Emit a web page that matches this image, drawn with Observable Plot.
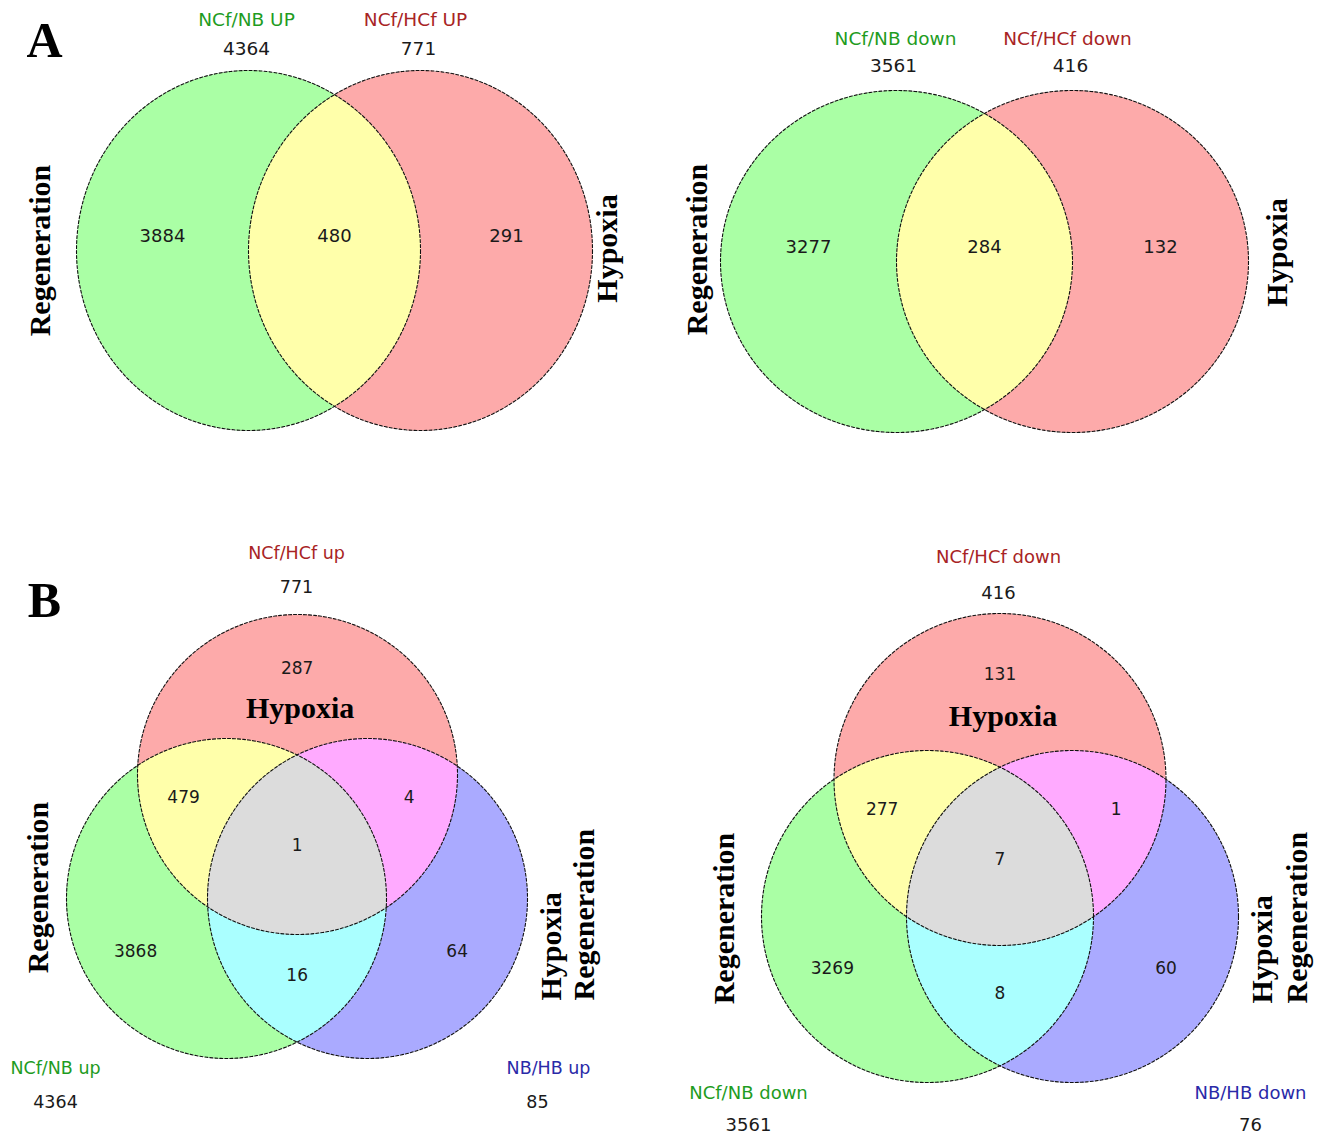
<!DOCTYPE html>
<html>
<head>
<meta charset="utf-8">
<script src="https://cdn.jsdelivr.net/npm/d3@7"></script>
<script src="https://cdn.jsdelivr.net/npm/@observablehq/plot@0.6"></script>
<style>
  body { margin: 0; background: #ffffff; }
  #chart { width: 1321px; height: 1135px; }
</style>
</head>
<body>
<div id="chart"></div>
<script>
// ================= DATA =================
const countsAup   = [3884, 480, 291];            // Regeneration only, both, Hypoxia only
const countsAdown = [3277, 284, 132];
// order: Hypoxia only, Hyp∩Reg, Hyp∩HypReg, all three, Reg only, Reg∩HypReg, HypReg only
const countsBup   = [287, 479, 4, 1, 3868, 16, 64];
const countsBdown = [131, 277, 1, 7, 3269, 8, 60];

const setLabelsAup   = ["NCf/NB UP", "NCf/HCf UP"];
const setTotalsAup   = [4364, 771];
const setLabelsAdown = ["NCf/NB down", "NCf/HCf down"];
const setTotalsAdown = [3561, 416];
const setLabelsBup   = ["NCf/HCf up", "NCf/NB up", "NB/HB up"];
const setTotalsBup   = [771, 4364, 85];
const setLabelsBdown = ["NCf/HCf down", "NCf/NB down", "NB/HB down"];
const setTotalsBdown = [416, 3561, 76];
const setKindsA = ["G", "R"];
const setKindsB = ["R", "G", "B"];

const groupRegeneration = "Regeneration";
const groupHypoxia = "Hypoxia";
const panelLetters = ["A", "B"];

// ================= LAYOUT & STYLE =================
const W = 1321, H = 1135;
const ellipses = [
  {panel: 0, set: "G", cx: 248,   cy: 250, rx: 172, ry: 180},
  {panel: 0, set: "R", cx: 420,   cy: 250, rx: 172, ry: 180},
  {panel: 1, set: "G", cx: 896,   cy: 261, rx: 176, ry: 171},
  {panel: 1, set: "R", cx: 1072,  cy: 261, rx: 176, ry: 171},
  {panel: 2, set: "R", cx: 297,   cy: 774, rx: 160, ry: 160},
  {panel: 2, set: "G", cx: 226,   cy: 898, rx: 160, ry: 160},
  {panel: 2, set: "B", cx: 367,   cy: 898, rx: 160, ry: 160},
  {panel: 3, set: "R", cx: 999.5, cy: 779, rx: 166, ry: 166},
  {panel: 3, set: "G", cx: 927,   cy: 916, rx: 166, ry: 166},
  {panel: 3, set: "B", cx: 1072,  cy: 916, rx: 166, ry: 166}
];
const regionColors = {G: "#aaffa5", R: "#fdaaaa", B: "#aaaaff", GR: "#ffffaa", RB: "#ffaaff", GB: "#aaffff", GRB: "#dcdcdc"};
const setTextColors = {G: "#1f9c1f", R: "#a82424", B: "#2a2aa8"};
const venn3Offsets = [[0, -1.18], [-0.71, -0.37], [0.70, -0.37], [0, -0.07], [-1.01, 0.59], [0, 0.74], [1.0, 0.59]];
const setLabelPos = [
  [[246, 20, 246, 49], [415, 20, 418, 49]],
  [[895, 39, 893, 66], [1067, 39, 1070, 66]],
  [[296, 553, 296, 587], [55, 1068, 55, 1102], [548, 1068, 537, 1102]],
  [[998, 557, 998, 593], [748, 1093, 748, 1125], [1250, 1093, 1250, 1125]]
];

// ================= BUILD =================
function fillAt(x, y) {
  let k = "";
  for (const e of ellipses) {
    const dx = (x - e.cx) / e.rx, dy = (y - e.cy) / e.ry;
    if (dx * dx + dy * dy <= 1) k += e.set;
  }
  if (!k) return "#ffffff";
  const key = ["G", "R", "B"].filter(s => k.includes(s)).join("");
  return regionColors[key];
}

const outline = ellipses.flatMap((e, i) => d3.range(0, 361, 1).map(a => ({
  i, x: e.cx + e.rx * Math.cos(a * Math.PI / 180), y: e.cy + e.ry * Math.sin(a * Math.PI / 180)
})));

const countRows = [];
[countsAup, countsAdown].forEach((counts, p) => {
  const [g, r] = ellipses.filter(e => e.panel === p);
  const xs = [(g.cx - g.rx + r.cx - r.rx) / 2, (g.cx + r.cx) / 2, (g.cx + g.rx + r.cx + r.rx) / 2];
  counts.forEach((c, j) => countRows.push({x: xs[j], y: g.cy - 14, text: String(c), size: 18}));
});
const centroids = [];
[countsBup, countsBdown].forEach((counts, q) => {
  const es = ellipses.filter(e => e.panel === q + 2);
  const cx = d3.mean(es, e => e.cx), cy = d3.mean(es, e => e.cy), r = es[0].rx;
  centroids.push({cx, cy, r});
  counts.forEach((c, j) => countRows.push({x: cx + venn3Offsets[j][0] * r, y: cy + venn3Offsets[j][1] * r, text: String(c), size: 17}));
});

const setRows = [];
const allLabels = [[setLabelsAup, setTotalsAup, setKindsA, 18.5], [setLabelsAdown, setTotalsAdown, setKindsA, 18.5],
                   [setLabelsBup, setTotalsBup, setKindsB, 17.5], [setLabelsBdown, setTotalsBdown, setKindsB, 18]];
allLabels.forEach(([labels, totals, kinds, size], p) => {
  labels.forEach((lab, j) => {
    const [lx, ly, tx, ty] = setLabelPos[p][j];
    setRows.push({x: lx, y: ly, text: lab, color: setTextColors[kinds[j]], size});
    countRows.push({x: tx, y: ty, text: String(totals[j]), size});
  });
});

const groupMid = [
  {x: 40, y: 250, text: groupRegeneration}, {x: 607, y: 248, text: groupHypoxia},
  {x: 697, y: 249, text: groupRegeneration}, {x: 1277, y: 252, text: groupHypoxia},
  {x: 38, y: 887, text: groupRegeneration}, {x: 724, y: 918, text: groupRegeneration}
];
const groupStart = [
  {x: 551, y: 1000, text: groupHypoxia}, {x: 584, y: 1000, text: groupRegeneration},
  {x: 1262, y: 1003, text: groupHypoxia}, {x: 1297, y: 1003, text: groupRegeneration}
];
const groupInside = centroids.map(c => ({x: c.cx + 3, y: c.cy - 0.93 * c.r, text: groupHypoxia}));
const letters = [{x: 44, y: 40, text: panelLetters[0]}, {x: 44, y: 600, text: panelLetters[1]}];

const chart = Plot.plot({
  width: W, height: H,
  margin: 0,
  x: {domain: [0, W], range: [0, W], axis: null},
  y: {domain: [0, H], range: [0, H], axis: null},
  color: {type: "identity"},
  style: {background: "#ffffff"},
  marks: [
    Plot.raster({x1: 0, y1: 0, x2: W, y2: H, width: W, height: H, fill: fillAt, imageRendering: "auto"}),
    Plot.line(outline, {x: "x", y: "y", z: "i", stroke: "#111111", strokeWidth: 1.1, strokeDasharray: "3,2"}),
    Plot.text(countRows, {x: "x", y: "y", text: "text", fontSize: "size", fill: "#1a1a1a", fontFamily: "DejaVu Sans"}),
    Plot.text(setRows, {x: "x", y: "y", text: "text", fontSize: "size", fill: "color", fontFamily: "DejaVu Sans"}),
    Plot.text(groupMid, {x: "x", y: "y", text: "text", rotate: -90, fontSize: 30, fontWeight: "bold", fontFamily: "Liberation Serif", fill: "#000000"}),
    Plot.text(groupStart, {x: "x", y: "y", text: "text", rotate: -90, textAnchor: "start", fontSize: 30, fontWeight: "bold", fontFamily: "Liberation Serif", fill: "#000000"}),
    Plot.text(groupInside, {x: "x", y: "y", text: "text", fontSize: 30, fontWeight: "bold", fontFamily: "Liberation Serif", fill: "#000000"}),
    Plot.text(letters, {x: "x", y: "y", text: "text", fontSize: 50, fontWeight: "bold", fontFamily: "Liberation Serif", fill: "#000000"})
  ]
});
document.getElementById("chart").appendChild(chart);
</script>
</body>
</html>
